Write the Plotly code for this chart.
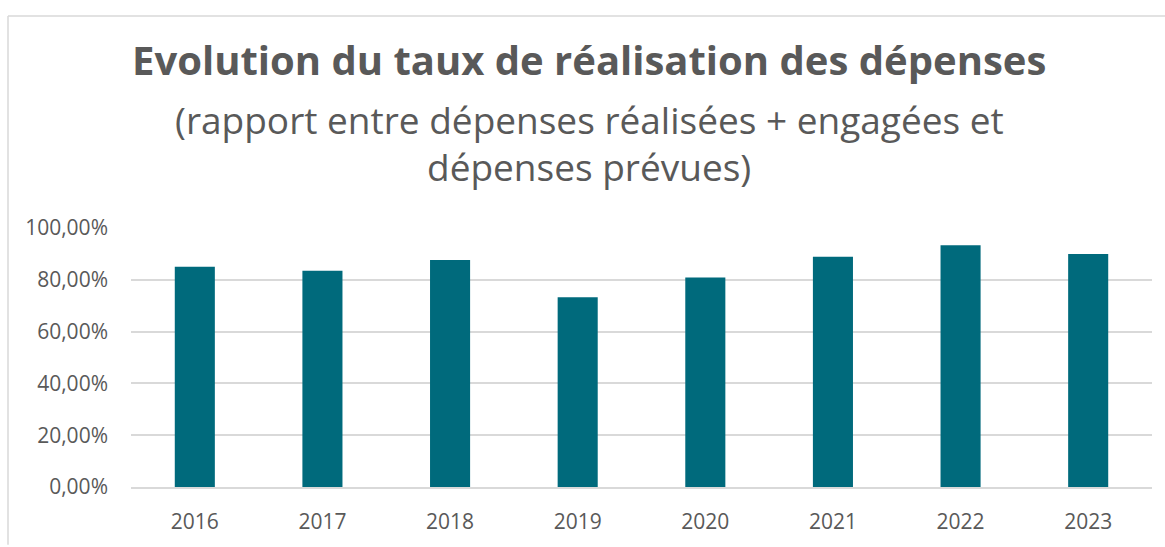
import plotly.graph_objects as go

years = ["2016", "2017", "2018", "2019", "2020", "2021", "2022", "2023"]
rates = [0.850, 0.835, 0.876, 0.733, 0.809, 0.889, 0.933, 0.900]
y_ticks = [0, 0.2, 0.4, 0.6, 0.8, 1.0]

title = "Evolution du taux de réalisation des dépenses"
subtitle1 = "(rapport entre dépenses réalisées + engagées et"
subtitle2 = "dépenses prévues)"

W, H = 1165, 547
L, R, T, B = 131, 13, 228, 54
pw, ph = W - L - R, H - T - B

def px_x(px):
    return (px - L) / pw

def px_y(py):
    return (H - B - py) / ph

FONT = "Open Sans"
GREY = "#595959"

fig = go.Figure(go.Bar(x=years, y=rates, marker=dict(color="#006A7C", line=dict(width=0)),
                       hoverinfo="x+y"))

fig.update_layout(
    width=W, height=H,
    margin=dict(l=L, r=R, t=T, b=B),
    paper_bgcolor="white", plot_bgcolor="white",
    separators=", ",
    bargap=0.686,
    showlegend=False,
    font=dict(family=FONT, color=GREY),
)
fig.update_yaxes(range=[0, 1.0], tickvals=y_ticks, tickformat=".2%",
                 showgrid=True, gridcolor="#d9d9d9", gridwidth=1.5,
                 zeroline=False, showline=False,
                 tickfont=dict(family=FONT, size=21, color=GREY),
                 ticklabelstandoff=22)
fig.update_xaxes(showline=True, linecolor="#d9d9d9", linewidth=1.5,
                 tickfont=dict(family=FONT, size=21, color=GREY),
                 ticks="", ticklabelstandoff=15)

anns = [
    dict(text="<b>" + title + "</b>", x=px_x(589), y=px_y(56), size=40),
    dict(text=subtitle1, x=px_x(589), y=px_y(117), size=37),
    dict(text=subtitle2, x=px_x(589), y=px_y(165), size=37),
]
for a in anns:
    fig.add_annotation(text=a["text"], x=a["x"], y=a["y"], xref="paper", yref="paper",
                       showarrow=False, xanchor="center", yanchor="middle",
                       font=dict(family=FONT, size=a["size"], color=GREY))

# chart border (top and left visible)
fig.add_shape(type="line", xref="paper", yref="paper",
              x0=px_x(8), x1=px_x(1170), y0=px_y(11), y1=px_y(11),
              line=dict(color="#d9d9d9", width=1.5))
fig.add_shape(type="line", xref="paper", yref="paper",
              x0=px_x(8), x1=px_x(8), y0=px_y(11), y1=px_y(552),
              line=dict(color="#d9d9d9", width=1.5))

fig.write_html("out.html",
               config={"displayModeBar": False},
               post_script="document.body.style.margin='0';document.body.style.overflow='hidden';")
